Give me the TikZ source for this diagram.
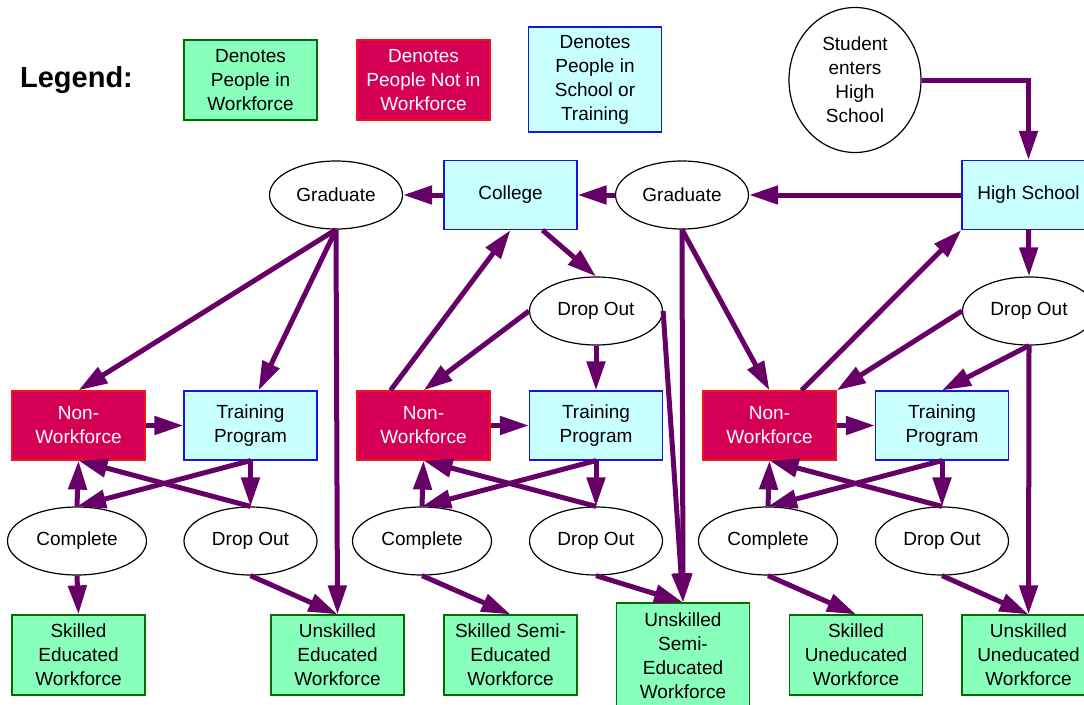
\documentclass[tikz,border=0pt]{standalone}
\usepackage{fontspec}
\setmainfont{Liberation Sans}
\usetikzlibrary{arrows.meta,calc,shapes.geometric}

\definecolor{flow}{RGB}{102,0,102}
\definecolor{workfill}{RGB}{136,255,187}
\definecolor{workline}{RGB}{0,110,0}
\definecolor{nonfill}{RGB}{213,0,85}
\definecolor{nonline}{RGB}{240,20,20}
\definecolor{schoolfill}{RGB}{200,255,255}
\definecolor{schoolline}{RGB}{20,20,230}

\tikzset{
  base/.style={font=\fontsize{19}{24}\selectfont, align=center, inner sep=0pt},
  work/.style={base, rectangle, draw=workline, fill=workfill, line width=1.2pt,
    minimum width=133pt, minimum height=80pt},
  nonwork/.style={base, rectangle, draw=nonline, fill=nonfill, text=white, line width=1.2pt,
    minimum width=133pt, minimum height=69pt},
  school/.style={base, rectangle, draw=schoolline, fill=schoolfill, line width=1.2pt,
    minimum width=133pt, minimum height=69pt},
  state/.style={base, ellipse, draw=black, fill=white, line width=1.2pt,
    minimum width=133pt, minimum height=68pt},
  flowarrow/.style={draw=flow, line width=5pt, -{Triangle[length=29pt,width=18pt]}},
}

\begin{document}
\begin{tikzpicture}[x=1pt,y=-1pt]
\useasboundingbox (0,0) rectangle (1084,704);

% legend
\node[base, font=\fontsize{29}{32}\selectfont\bfseries] (legend) at (76.5,80) {Legend:};
\node[work] (lgw) at (250.5,80) {Denotes\\People in\\Workforce};
\node[nonwork, minimum height=80pt] (lgn) at (423.5,80) {Denotes\\People Not in\\Workforce};
\node[school, minimum height=105pt] (lgs) at (595,79.5) {Denotes\\People in\\School or\\Training};

% top level
\node[state, minimum width=132pt, minimum height=145pt] (stu) at (855,80) {Student\\enters\\High\\School};
\node[school] (hs) at (1028.5,195) {High School};
\node[state] (grR) at (682,195) {Graduate};
\node[school] (col) at (510.5,195) {College};
\node[state] (grL) at (336,195) {Graduate};
\node[state] (do2) at (596,311) {Drop Out};
\node[state] (do3) at (1029,311) {Drop Out};

% non-workforce / training row
\node[nonwork] (nw1) at (78.5,425.5) {Non-\\Workforce};
\node[school]  (tp1) at (250.5,425.5) {Training\\Program};
\node[nonwork] (nw2) at (423.5,425.5) {Non-\\Workforce};
\node[school]  (tp2) at (596,425.5) {Training\\Program};
\node[nonwork] (nw3) at (769.5,425.5) {Non-\\Workforce};
\node[school]  (tp3) at (942,425.5) {Training\\Program};

% training outcomes
\node[state, minimum width=139pt] (c1) at (77,541) {Complete};
\node[state] (d1) at (250.5,541) {Drop Out};
\node[state, minimum width=139pt] (c2) at (422,541) {Complete};
\node[state] (d2) at (596,541) {Drop Out};
\node[state, minimum width=139pt] (c3) at (768,541) {Complete};
\node[state] (d3) at (942,541) {Drop Out};

% workforce outcomes
\node[work] (sew) at (78.5,655) {Skilled\\Educated\\Workforce};
\node[work] (uew) at (337.5,655) {Unskilled\\Educated\\Workforce};
\node[work] (ssw) at (510.5,655) {Skilled Semi-\\Educated\\Workforce};
\node[work, minimum height=105pt] (usw) at (683,655.5) {Unskilled\\Semi-\\Educated\\Workforce};
\node[work] (suw) at (856,655) {Skilled\\Uneducated\\Workforce};
\node[work] (uuw) at (1028.5,655) {Unskilled\\Uneducated\\Workforce};

% flows through school
\draw[flowarrow] (stu.east) -| (hs.north);
\draw[flowarrow] (hs.west) -- (grR.east);
\draw[flowarrow] (grR.west) -- (col.east);
\draw[flowarrow] (col.west) -- (grL.east);
\draw[flowarrow] (hs.south) -- (do3.north);
\draw[flowarrow] ($(col.south)+(32,0)$) -- (do2.north);

\draw[flowarrow] (grL.south) -- (nw1.north);
\draw[flowarrow] (grL.south) -- ($(tp1.north)+(8,0)$);
\draw[flowarrow] (grL.south) -- (uew.north);

\draw[flowarrow] ($(nw2.north)+(-33,0)$) -- (col.south);
\draw[flowarrow] (do2.west) -- (nw2.north);
\draw[flowarrow] (do2.south) -- (tp2.north);
\draw[flowarrow] (do2.east) -- (usw.north);

\draw[flowarrow] (grR.south) -- (usw.north);
\draw[flowarrow] (grR.south) -- (nw3.north);
\draw[flowarrow] ($(nw3.north)+(32,0)$) -- (hs.south west);
\draw[flowarrow] (do3.west) -- (nw3.north east);
\draw[flowarrow] (do3.south) -- (tp3.north);
\draw[flowarrow] (do3.south) -- (uuw.north);

% training loops
\foreach \i in {1,2,3} {
  \draw[flowarrow] (nw\i.east) -- (tp\i.west);
  \draw[flowarrow] (tp\i.south) -- (c\i.north);
  \draw[flowarrow] (tp\i.south) -- (d\i.north);
  \draw[flowarrow] (c\i.north) -- (nw\i.south);
  \draw[flowarrow] (d\i.north) -- (nw\i.south);
}

% into the workforce
\draw[flowarrow] (c1.south) -- (sew.north);
\draw[flowarrow] (d1.south) -- (uew.north);
\draw[flowarrow] (c2.south) -- (ssw.north);
\draw[flowarrow] (d2.south) -- (usw.north);
\draw[flowarrow] (c3.south) -- (suw.north);
\draw[flowarrow] (d3.south) -- (uuw.north);
\end{tikzpicture}
\end{document}
